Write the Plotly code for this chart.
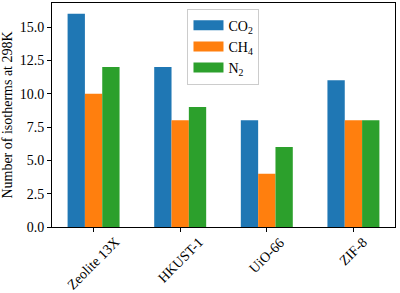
import plotly.graph_objects as go

categories = ["Zeolite 13X", "HKUST-1", "UiO-66", "ZIF-8"]
co2 = [16, 12, 8, 11]
ch4 = [10, 8, 4, 8]
n2 = [12, 9, 6, 8]
series_names = ["CO<sub>2</sub>", "CH<sub>4</sub>", "N<sub>2</sub>"]
colors = ["#1f77b4", "#ff7f0e", "#2ca02c"]
y_ticks = [0, 2.5, 5, 7.5, 10, 12.5, 15]

FONT = "Liberation Serif"

fig = go.Figure()
for name, vals, c in zip(series_names, [co2, ch4, n2], colors):
    fig.add_trace(go.Bar(x=categories, y=vals, name=name, marker_color=c,
                         marker_line_width=0, showlegend=False))
# legend proxies
for name, c in zip(series_names, colors):
    fig.add_trace(go.Scatter(x=[None], y=[None], mode="lines", name=name,
                             line=dict(color=c, width=10)))

for cat in categories:
    fig.add_annotation(x=cat, y=-0.028, xref="x", yref="paper", text=cat,
                       textangle=-45, showarrow=False, xanchor="center",
                       yanchor="top", borderpad=0,
                       font=dict(family=FONT, size=14, color="black"))

fig.update_layout(
    width=400, height=293,
    margin=dict(l=52, r=5, t=3, b=66),
    plot_bgcolor="white", paper_bgcolor="white",
    barmode="group", bargap=0.4, bargroupgap=0,
    font=dict(family=FONT, size=14, color="black"),
    hovermode=False,
    legend=dict(x=0.395, y=0.975, xanchor="left", yanchor="top",
                bgcolor="rgba(255,255,255,0.8)", bordercolor="#cccccc", borderwidth=1,
                font=dict(family=FONT, size=14), itemwidth=30, tracegroupgap=0),
    xaxis=dict(range=[-0.48, 3.48], showline=True, mirror=True, linecolor="black",
               linewidth=1, ticks="outside", ticklen=4, tickcolor="black",
               showticklabels=False, showgrid=False, zeroline=False),
    yaxis=dict(range=[0, 16.8], tickvals=y_ticks, tickformat=".1f",
               showline=True, mirror=True, linecolor="black", linewidth=1,
               ticks="outside", ticklen=4, tickcolor="black", showgrid=False,
               zeroline=False, tickfont=dict(size=14), automargin=False,
               title=dict(text="Number of isotherms at 298K", font=dict(size=14), standoff=8)),
)

fig.write_html("out.html", config={"displayModeBar": False, "staticPlot": True},
               post_script="document.body.style.margin='0';document.body.style.overflow='hidden';")
